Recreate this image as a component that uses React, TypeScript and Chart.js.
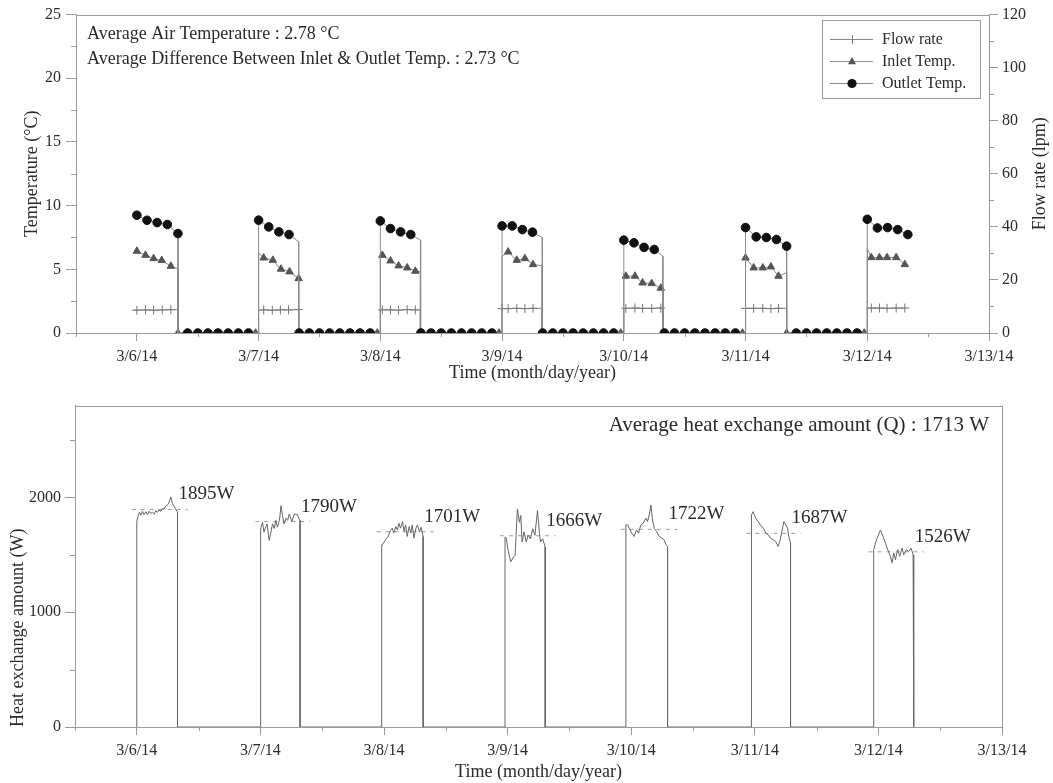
import React, { useEffect, useRef } from "react";
import { Chart, registerables } from "chart.js";

Chart.register(...registerables);

// ---------------- shared time axis (hours after 3/6/14 00:00) ----------------
const dayLabels = ["3/6/14", "3/7/14", "3/8/14", "3/9/14", "3/10/14", "3/11/14", "3/12/14", "3/13/14"];
const dayTicks = [0, 24, 48, 72, 96, 120, 144, 168];
const halfDayTicks = [-12, 12, 36, 60, 84, 108, 132, 156];

// ---------------- top panel: temperatures & flow rate ----------------
const tempTicks = [0, 5, 10, 15, 20, 25];
const tempMinorTicks = [2.5, 7.5, 12.5, 17.5, 22.5];
const flowTicks = [0, 20, 40, 60, 80, 100, 120];
const flowMinorTicks = [10, 30, 50, 70, 90, 110];

// Outlet temperature (°C), marker readings per daily cycle (hours within the day)
const outletHours = [[0, 2, 4, 6, 8.1], [0, 2, 4, 6], [0, 2, 4, 6], [0, 2, 4, 6], [0, 2, 4, 6], [0, 2.1, 4.1, 6.1, 8.1], [0, 2, 4, 6, 8]];
const outletTemps = [
  [9.25, 8.85, 8.67, 8.52, 7.81],
  [8.86, 8.33, 7.94, 7.73],
  [8.8, 8.2, 7.94, 7.73],
  [8.41, 8.41, 8.12, 7.92],
  [7.29, 7.08, 6.72, 6.56],
  [8.28, 7.55, 7.5, 7.34, 6.82],
  [8.93, 8.25, 8.28, 8.12, 7.73],
];
const outletEnd = [[8.1, 7.81], [7.9, 7.16], [7.9, 7.3], [7.9, 7.5], [7.7, 6.03], [8.1, 6.82], [8, 7.73]];
const outletOffHours = [8, 10, 12, 14, 16, 18, 20, 22];

// Inlet temperature (°C)
const inletStart = [6.43, 6.29, 6.11, 6.03, 4.45, 5.9, 6.63];
const inletHours = [[0, 1.7, 3.3, 4.9, 6.7], [1, 2.8, 4.4, 6.1, 7.9], [0.4, 2, 3.6, 5.3, 6.9], [1.2, 2.9, 4.5, 6.1], [0.4, 2.2, 3.7, 5.5, 7.3], [0, 1.6, 3.4, 5, 6.5], [0.8, 2.4, 3.9, 5.7, 7.4]];
const inletTemps = [
  [6.43, 6.11, 5.85, 5.7, 5.25],
  [5.9, 5.72, 5.02, 4.81, 4.28],
  [6.11, 5.67, 5.28, 5.12, 4.86],
  [6.37, 5.72, 5.85, 5.38],
  [4.47, 4.47, 3.94, 3.89, 3.53],
  [5.9, 5.12, 5.12, 5.2, 4.47],
  [5.93, 5.93, 5.93, 5.93, 5.38],
];
const inletEnd = [[8.1, 5.04], [7.9, 4.28], [7.9, 4.8], [7.9, 5.28], [7.7, 3.5], [8.1, 4.73], [7.4, 5.38]];
const inletOffHour = 23.4;

// Flow rate (lpm)
const flowStart = [-0.8, 0, 0, 0, 0, 0, 0];
const flowHours = [[0, 1.7, 3.3, 5, 6.7], [1, 2.7, 4.3, 5.9, 7.9], [0.4, 2, 3.6, 5.3, 6.9], [0, 1.2, 2.9, 4.5, 6.1], [0.4, 2.2, 3.7, 5.5, 7.3], [0, 1.6, 3.4, 5, 6.5], [0.8, 2.4, 3.9, 5.7, 7.4]];
const flowRates = [
  [8.6, 8.7, 8.6, 8.7, 8.8],
  [8.7, 8.6, 8.7, 8.7, 8.8],
  [8.7, 8.7, 8.6, 8.8, 8.7],
  [9.2, 9.2, 9.3, 9.2, 9.3],
  [9.3, 9.4, 9.3, 9.3, 9.4],
  [9.3, 9.3, 9.3, 9.2, 9.3],
  [9.4, 9.4, 9.3, 9.4, 9.4],
];
const flowEnd = [[8.1, 8.8], [7.9, 8.8], [7.9, 8.7], [7.9, 9.3], [7.7, 9.4], [8.1, 9.3], [7.4, 9.4]];

const topNotes = ["Average Air Temperature : 2.78 \u00B0C", "Average Difference Between Inlet & Outlet Temp. : 2.73 \u00B0C"];
const legendNames = ["Flow rate", "Inlet Temp.", "Outlet Temp."];

// ---------------- bottom panel: heat exchange amount ----------------
const heatTicks = [0, 1000, 2000];
const heatMinorTicks = [500, 1500, 2500];
const heatHours = [
  [0, 0.2, 0.5, 0.8, 1.1, 1.4, 1.8, 2.1, 2.4, 2.7, 3.0, 3.4, 3.7, 4.0, 4.3, 4.7, 5.0, 5.3, 5.6, 6.0, 6.3, 6.6, 6.9, 7.2, 7.5, 7.9],
  [0, 0.1, 0.4, 0.7, 1.0, 1.3, 1.7, 2.0, 2.35, 2.7, 3.0, 3.3, 3.7, 4.0, 4.3, 4.6, 5.0, 5.3, 5.6, 6.1, 6.6, 7.2, 7.5, 7.7],
  [-0.45, -0.3, 0.3, 0.8, 1.3, 1.6, 1.9, 2.3, 2.6, 2.9, 3.2, 3.6, 3.9, 4.2, 4.5, 4.9, 5.2, 5.5, 5.8, 6.2, 6.5, 6.9, 7.2, 7.6],
  [-0.5, -0.3, 0.16, 0.6, 1.13, 1.46, 1.9, 2.3, 2.56, 2.82, 3.2, 3.6, 4.0, 4.4, 4.9, 5.3, 5.8, 6.2, 6.4, 6.8, 7.3],
  [-1.03, -0.71, -0.39, 0.13, 0.58, 1.03, 1.42, 1.88, 2.33, 2.86, 3.17, 3.5, 3.83, 4.14, 4.47, 4.92, 5.44, 5.96, 6.41, 6.74, 7.06],
  [-0.65, -0.33, 0.19, 0.65, 1.1, 1.62, 2.14, 2.6, 3.05, 3.56, 4.08, 4.53, 4.86, 5.18, 5.64, 6.03, 6.35, 6.67, 6.94],
  [-0.91, -0.58, -0.13, 0.39, 0.91, 1.36, 1.81, 2.33, 2.66, 2.98, 3.3, 3.75, 4.14, 4.6, 4.92, 5.44, 5.89, 6.35, 6.74, 6.86],
];
const heatWatts = [
  [1790, 1830, 1870, 1845, 1880, 1850, 1875, 1850, 1880, 1860, 1870, 1855, 1885, 1870, 1890, 1880, 1905, 1895, 1925, 1935, 1960, 2005, 1950, 1925, 1900, 1875],
  [1655, 1727, 1784, 1698, 1740, 1770, 1626, 1684, 1770, 1730, 1800, 1741, 1800, 1928, 1842, 1770, 1820, 1800, 1856, 1790, 1856, 1850, 1813, 1800],
  [1588, 1588, 1631, 1660, 1717, 1732, 1689, 1746, 1717, 1775, 1732, 1790, 1703, 1761, 1660, 1746, 1689, 1761, 1645, 1732, 1760, 1700, 1740, 1660],
  [1655, 1650, 1526, 1440, 1480, 1497, 1899, 1784, 1842, 1612, 1700, 1612, 1670, 1640, 1727, 1670, 1885, 1684, 1612, 1640, 1569],
  [1761, 1761, 1732, 1689, 1660, 1717, 1689, 1761, 1775, 1818, 1790, 1847, 1934, 1804, 1732, 1703, 1660, 1645, 1631, 1588, 1570],
  [1847, 1876, 1818, 1790, 1761, 1732, 1689, 1674, 1645, 1631, 1616, 1573, 1616, 1689, 1790, 1761, 1732, 1645, 1602],
  [1545, 1602, 1659, 1717, 1659, 1602, 1545, 1487, 1429, 1516, 1458, 1545, 1487, 1559, 1501, 1545, 1530, 1559, 1501, 1443],
];
const heatAverages = [1895, 1790, 1701, 1666, 1722, 1687, 1526];
const heatNote = "Average heat exchange amount (Q) : 1713 W";

// ---------------- styles ----------------
const FONT = "'Liberation Serif', 'Times New Roman', Times, serif";
const AXIS = "#9a9a9a";
const TEXT = "#2b2b2b";
const LINE = "#8a8a8a";

type P = { x: number; y: number; m?: boolean };

function buildOutlet(): P[] {
  const pts: P[] = [];
  outletHours.forEach((hrs, c) => {
    const base = c * 24;
    if (c > 0) pts.push({ x: base, y: 0 });
    hrs.forEach((h, i) => pts.push({ x: base + h, y: outletTemps[c][i], m: true }));
    const [eh, ev] = outletEnd[c];
    pts.push({ x: base + eh, y: ev });
    if (c < outletHours.length - 1) {
      pts.push({ x: base + eh, y: 0 });
      outletOffHours.filter((h) => h > eh).forEach((h) => pts.push({ x: base + h, y: 0, m: true }));
    }
  });
  return pts;
}

function buildInlet(): P[] {
  const pts: P[] = [];
  inletHours.forEach((hrs, c) => {
    const base = c * 24;
    if (c > 0) pts.push({ x: base, y: 0 });
    pts.push({ x: base, y: inletStart[c] });
    hrs.forEach((h, i) => pts.push({ x: base + h, y: inletTemps[c][i], m: true }));
    const [eh, ev] = inletEnd[c];
    pts.push({ x: base + eh, y: ev });
    if (c < inletHours.length - 1) {
      pts.push({ x: base + eh, y: 0, m: true });
      pts.push({ x: base + inletOffHour, y: 0, m: true });
    }
  });
  return pts;
}

function buildFlow(): P[] {
  const pts: P[] = [];
  flowHours.forEach((hrs, c) => {
    const base = c * 24;
    if (c > 0) pts.push({ x: base + flowStart[c], y: 0 });
    pts.push({ x: base + flowStart[c], y: flowRates[c][0] });
    hrs.forEach((h, i) => pts.push({ x: base + h, y: flowRates[c][i], m: true }));
    const [eh, ev] = flowEnd[c];
    pts.push({ x: base + eh, y: ev });
    if (c < flowHours.length - 1) pts.push({ x: base + eh, y: 0 });
  });
  return pts;
}

function buildHeat(): P[] {
  const pts: P[] = [];
  heatHours.forEach((hrs, c) => {
    const base = c * 24;
    pts.push({ x: base + hrs[0], y: 0 });
    hrs.forEach((h, i) => pts.push({ x: base + h, y: heatWatts[c][i] }));
    pts.push({ x: base + hrs[hrs.length - 1], y: 0 });
  });
  return pts;
}

const markerR = (r: number) => (ctx: any) => (ctx.raw && ctx.raw.m ? r : 0);

function framePlugin() {
  return {
    id: "frame",
    beforeDatasetsDraw(chart: any) {
      const { ctx, chartArea: a } = chart;
      ctx.save();
      ctx.strokeStyle = AXIS;
      ctx.lineWidth = 1;
      ctx.strokeRect(Math.round(a.left) + 0.5, Math.round(a.top) + 0.5, Math.round(a.right - a.left), Math.round(a.bottom - a.top));
      ctx.restore();
    },
  };
}

function minorPlugin(axes: { id: string; side: string; values: number[]; len: number }[]) {
  return {
    id: "minorTicks",
    afterDraw(chart: any) {
      const { ctx, chartArea: a } = chart;
      ctx.save();
      ctx.strokeStyle = AXIS;
      ctx.lineWidth = 1;
      axes.forEach((ax) => {
        const s = chart.scales[ax.id];
        ax.values.forEach((v) => {
          const p = Math.round(s.getPixelForValue(v)) + 0.5;
          ctx.beginPath();
          if (ax.side === "bottom") {
            ctx.moveTo(p, a.bottom);
            ctx.lineTo(p, a.bottom + ax.len);
          } else if (ax.side === "left") {
            ctx.moveTo(a.left - ax.len, p);
            ctx.lineTo(a.left, p);
          } else {
            ctx.moveTo(a.right, p);
            ctx.lineTo(a.right + ax.len, p);
          }
          ctx.stroke();
        });
      });
      ctx.restore();
    },
  };
}

function drawMarker(ctx: CanvasRenderingContext2D, kind: string, x: number, y: number) {
  ctx.save();
  if (kind === "circle") {
    ctx.fillStyle = "#111";
    ctx.beginPath();
    ctx.arc(x, y, 4.6, 0, Math.PI * 2);
    ctx.fill();
  } else if (kind === "triangle") {
    ctx.fillStyle = "#555";
    ctx.beginPath();
    ctx.moveTo(x, y - 4.5);
    ctx.lineTo(x + 4, y + 2.8);
    ctx.lineTo(x - 4, y + 2.8);
    ctx.closePath();
    ctx.fill();
  } else {
    ctx.strokeStyle = "#777";
    ctx.lineWidth = 1;
    ctx.beginPath();
    ctx.moveTo(x + 0.5, y - 4.5);
    ctx.lineTo(x + 0.5, y + 4.5);
    ctx.stroke();
  }
  ctx.restore();
}

function topTextPlugin() {
  return {
    id: "topText",
    afterDraw(chart: any) {
      const { ctx, chartArea: a } = chart;
      ctx.save();
      ctx.fillStyle = TEXT;
      ctx.font = `18px ${FONT}`;
      ctx.textAlign = "left";
      ctx.textBaseline = "alphabetic";
      topNotes.forEach((t, i) => ctx.fillText(t, a.left + 11, a.top + 24 + i * 25));

      // right axis title (reads bottom-to-top)
      ctx.save();
      ctx.translate(chart.width - 13, (a.top + a.bottom) / 2);
      ctx.rotate(-Math.PI / 2);
      ctx.textAlign = "center";
      ctx.textBaseline = "middle";
      ctx.font = `18px ${FONT}`;
      ctx.fillText("Flow rate (lpm)", 0, 0);
      ctx.restore();

      // legend
      const bw = 158, bh = 78;
      const bx = Math.round(a.right - 167), by = Math.round(a.top + 5);
      ctx.fillStyle = "#fff";
      ctx.fillRect(bx, by, bw, bh);
      ctx.strokeStyle = AXIS;
      ctx.lineWidth = 1;
      ctx.strokeRect(bx + 0.5, by + 0.5, bw, bh);
      const kinds = ["cross", "triangle", "circle"];
      legendNames.forEach((name, i) => {
        const y = by + 19 + i * 22;
        ctx.strokeStyle = LINE;
        ctx.beginPath();
        ctx.moveTo(bx + 8, y + 0.5);
        ctx.lineTo(bx + 51, y + 0.5);
        ctx.stroke();
        drawMarker(ctx, kinds[i], bx + 30, y + 0.5);
        ctx.fillStyle = TEXT;
        ctx.font = `16px ${FONT}`;
        ctx.textAlign = "left";
        ctx.textBaseline = "middle";
        ctx.fillText(name, bx + 60, y + 1);
      });
      ctx.restore();
    },
  };
}

function bottomTextPlugin() {
  return {
    id: "bottomText",
    afterDraw(chart: any) {
      const { ctx, chartArea: a } = chart;
      const xs = chart.scales.x, ys = chart.scales.y;
      ctx.save();
      ctx.fillStyle = TEXT;
      ctx.font = `21px ${FONT}`;
      ctx.textAlign = "right";
      ctx.textBaseline = "middle";
      ctx.fillText(heatNote, a.right - 13, a.top + 20);
      ctx.textAlign = "left";
      ctx.textBaseline = "alphabetic";
      ctx.font = `19px ${FONT}`;
      heatAverages.forEach((v, c) => {
        const hrs = heatHours[c];
        const x = xs.getPixelForValue(c * 24 + hrs[hrs.length - 1]) + 1;
        const y = ys.getPixelForValue(v) - 10;
        ctx.fillText(`${v}W`, x, y);
      });
      ctx.restore();
    },
  };
}

const tickFont = { family: FONT, size: 16 };
const titleFont = { family: FONT, size: 18 };
const gridOpts = (len: number) => ({ display: true, drawOnChartArea: false, drawTicks: true, tickLength: len, color: AXIS, lineWidth: 1 });
const borderOpts = { display: true, color: AXIS, width: 1 };

function timeAxis(height: number, titlePad: number) {
  return {
    type: "linear" as const,
    min: -12,
    max: 168,
    afterBuildTicks: (s: any) => {
      s.ticks = dayTicks.map((v) => ({ value: v }));
    },
    afterFit: (s: any) => {
      s.height = height;
    },
    ticks: {
      font: tickFont,
      color: TEXT,
      padding: 6,
      maxRotation: 0,
      autoSkip: false,
      callback: (v: any) => dayLabels[dayTicks.indexOf(Number(v))] ?? "",
    },
    grid: gridOpts(8),
    border: borderOpts,
    title: { display: true, text: "Time (month/day/year)", font: titleFont, color: TEXT, padding: { top: 0, bottom: titlePad } },
  };
}

export default function App() {
  const topRef = useRef<HTMLCanvasElement>(null);
  const botRef = useRef<HTMLCanvasElement>(null);

  useEffect(() => {
    if (!topRef.current || !botRef.current) return;

    const top = new Chart(topRef.current, {
      type: "line",
      data: {
        datasets: [
          {
            label: "Outlet Temp.",
            data: buildOutlet(),
            yAxisID: "y",
            borderColor: LINE,
            borderWidth: 1,
            pointStyle: "circle",
            pointRadius: markerR(4.3),
            pointBackgroundColor: "#111",
            pointBorderColor: "#111",
            pointBorderWidth: 1,
            tension: 0,
          },
          {
            label: "Inlet Temp.",
            data: buildInlet(),
            yAxisID: "y",
            borderColor: LINE,
            borderWidth: 1,
            pointStyle: "triangle",
            pointRadius: markerR(4.3),
            pointBackgroundColor: "#555",
            pointBorderColor: "#555",
            pointBorderWidth: 1,
            tension: 0,
          },
          {
            label: "Flow rate",
            data: buildFlow(),
            yAxisID: "y1",
            borderColor: LINE,
            borderWidth: 1,
            pointStyle: "cross",
            pointRadius: markerR(4.5),
            pointBackgroundColor: "#777",
            pointBorderColor: "#777",
            pointBorderWidth: 1,
            tension: 0,
          },
        ] as any,
      },
      options: {
        responsive: false,
        animation: false,
        events: [],
        layout: { padding: { top: 14, left: 0, right: 0, bottom: 0 } },
        plugins: { legend: { display: false }, tooltip: { enabled: false } },
        scales: {
          x: timeAxis(59, 8) as any,
          y: {
            type: "linear",
            position: "left",
            min: 0,
            max: 25,
            afterBuildTicks: (s: any) => {
              s.ticks = tempTicks.map((v) => ({ value: v }));
            },
            afterFit: (s: any) => {
              s.width = 76;
            },
            ticks: { font: tickFont, color: TEXT, padding: 5, callback: (v: any) => String(v) },
            grid: gridOpts(10),
            border: borderOpts,
            title: { display: true, text: "Temperature (\u00B0C)", font: titleFont, color: TEXT, padding: { top: 21, bottom: 0 } },
          },
          y1: {
            type: "linear",
            position: "right",
            min: 0,
            max: 120,
            afterBuildTicks: (s: any) => {
              s.ticks = flowTicks.map((v) => ({ value: v }));
            },
            afterFit: (s: any) => {
              s.width = 64;
            },
            ticks: { font: tickFont, color: TEXT, padding: 4, callback: (v: any) => String(v) },
            grid: gridOpts(9),
            border: borderOpts,
          },
        },
      } as any,
      plugins: [
        framePlugin(),
        minorPlugin([
          { id: "x", side: "bottom", values: halfDayTicks, len: 4 },
          { id: "y", side: "left", values: tempMinorTicks, len: 5 },
          { id: "y1", side: "right", values: flowMinorTicks, len: 5 },
        ]),
        topTextPlugin(),
      ],
    });

    const avgSets = heatAverages.map((v, c) => {
      const hrs = heatHours[c];
      return {
        label: `avg${c}`,
        data: [
          { x: c * 24 + hrs[0] - 1, y: v },
          { x: c * 24 + hrs[hrs.length - 1] + 2, y: v },
        ],
        borderColor: "#9a9a9a",
        borderWidth: 1,
        borderDash: [4, 5],
        pointRadius: 0,
        tension: 0,
      };
    });

    const bot = new Chart(botRef.current, {
      type: "line",
      data: {
        datasets: [
          {
            label: "Heat exchange amount",
            data: buildHeat(),
            borderColor: "#666",
            borderWidth: 1,
            pointRadius: 0,
            tension: 0,
          },
          ...avgSets,
        ] as any,
      },
      options: {
        responsive: false,
        animation: false,
        events: [],
        layout: { padding: { top: 12, left: 0, right: 51, bottom: 0 } },
        plugins: { legend: { display: false }, tooltip: { enabled: false } },
        scales: {
          x: timeAxis(56, 0) as any,
          y: {
            type: "linear",
            position: "left",
            min: 0,
            max: 2800,
            afterBuildTicks: (s: any) => {
              s.ticks = heatTicks.map((v) => ({ value: v }));
            },
            afterFit: (s: any) => {
              s.width = 75;
            },
            ticks: { font: tickFont, color: TEXT, padding: 4, callback: (v: any) => String(v) },
            grid: gridOpts(10),
            border: borderOpts,
            title: { display: true, text: "Heat exchange amount (W)", align: "start", font: titleFont, color: TEXT, padding: { top: 7, bottom: 0 } },
          },
        },
      } as any,
      plugins: [
        framePlugin(),
        minorPlugin([
          { id: "x", side: "bottom", values: halfDayTicks, len: 4 },
          { id: "y", side: "left", values: heatMinorTicks, len: 5 },
        ]),
        bottomTextPlugin(),
      ],
    });

    return () => {
      top.destroy();
      bot.destroy();
    };
  }, []);

  return (
    <div style={{ position: "absolute", left: 0, top: 0, width: 1053, height: 783, background: "#fff" }}>
      <canvas ref={topRef} width={1053} height={392} style={{ display: "block" }} />
      <canvas ref={botRef} width={1053} height={391} style={{ display: "block" }} />
    </div>
  );
}
